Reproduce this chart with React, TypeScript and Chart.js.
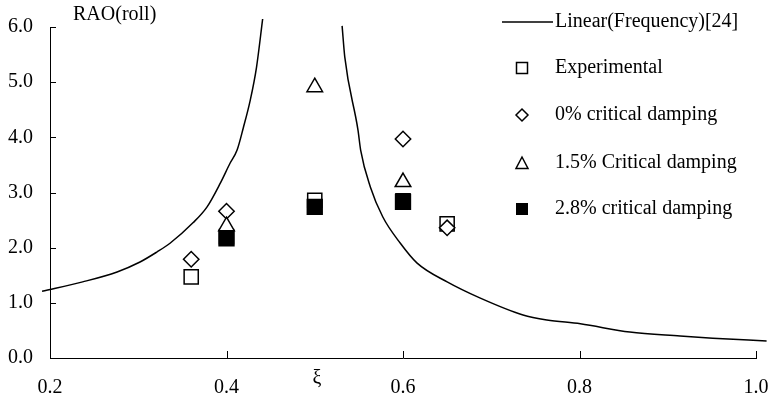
import React, { useEffect, useRef } from "react";
import { Chart, registerables } from "chart.js";

Chart.register(...registerables);

const FONT = "'Liberation Serif', 'Times New Roman', serif";

// Axis ticks
const xTickValues = [0.2, 0.4, 0.6, 0.8, 1.0];
const yTickValues = [0, 1, 2, 3, 4, 5, 6];
const yAxisTitle = "RAO(roll)";
const xAxisTitle = "ξ";

// Linear (Frequency) [24] curve, two branches around resonance
const linearLeftX = [0.191, 0.237, 0.276, 0.302, 0.321, 0.336, 0.362, 0.378, 0.393, 0.404, 0.412, 0.419, 0.427, 0.434, 0.441];
const linearLeftY = [1.21, 1.38, 1.56, 1.74, 1.92, 2.08, 2.45, 2.74, 3.17, 3.53, 3.77, 4.17, 4.68, 5.27, 6.15];
const linearRightX = [0.531, 0.534, 0.549, 0.552, 0.563, 0.577, 0.597, 0.616, 0.65, 0.687, 0.736, 0.763, 0.801, 0.857, 0.914, 0.951, 1.012];
const linearRightY = [6.02, 5.46, 4.13, 3.77, 3.1, 2.56, 2.08, 1.72, 1.38, 1.09, 0.78, 0.69, 0.62, 0.47, 0.4, 0.36, 0.31];

// Point series
const xCategories = [0.36, 0.4, 0.5, 0.6, 0.65];
const experimental: (number | null)[] = [1.47, 2.2, 2.86, 2.85, 2.43];
const damping0: (number | null)[] = [1.79, 2.66, null, 3.97, 2.36];
const damping15: (number | null)[] = [null, 2.39, 4.91, 3.19, null];
const damping28: (number | null)[] = [null, 2.17, 2.74, 2.83, null];

const seriesNames = [
  "Linear(Frequency)[24]",
  "Experimental",
  "0% critical damping",
  "1.5% Critical damping",
  "2.8% critical damping",
];

function toPoints(ys: (number | null)[]) {
  return xCategories
    .map((x, i) => ({ x, y: ys[i] }))
    .filter((p) => p.y !== null) as { x: number; y: number }[];
}

function curvePoints() {
  const left = linearLeftX.map((x, i) => ({ x, y: linearLeftY[i] as number | null }));
  const right = linearRightX.map((x, i) => ({ x, y: linearRightY[i] as number | null }));
  return [...left, { x: 0.49, y: null }, ...right];
}

const decorPlugin = {
  id: "decor",
  afterDraw(chart: any) {
    const { ctx, chartArea, scales } = chart;
    const xs = scales.x;
    const ys = scales.y;
    ctx.save();
    ctx.strokeStyle = "#000";
    ctx.fillStyle = "#000";
    ctx.lineWidth = 1;
    // inward tick marks
    yTickValues.forEach((v) => {
      const py = Math.round(ys.getPixelForValue(v)) + 0.5;
      ctx.beginPath();
      ctx.moveTo(chartArea.left, py);
      ctx.lineTo(chartArea.left + 6, py);
      ctx.stroke();
    });
    xTickValues.forEach((v) => {
      const px = Math.round(xs.getPixelForValue(v)) + 0.5;
      ctx.beginPath();
      ctx.moveTo(px, chartArea.bottom);
      ctx.lineTo(px, chartArea.bottom - 7);
      ctx.stroke();
    });

    // axis titles
    ctx.font = `20px ${FONT}`;
    ctx.textBaseline = "middle";
    ctx.textAlign = "left";
    ctx.fillText(yAxisTitle, 73, 15);
    ctx.textAlign = "center";
    ctx.fillText(xAxisTitle, 317, 379);

    // legend
    ctx.textAlign = "left";
    const mx = 522;
    const tx = 555;
    const rows = [22, 68, 115, 163, 209];
    ctx.lineWidth = 1.5;
    ctx.beginPath();
    ctx.moveTo(502, rows[0]);
    ctx.lineTo(553, rows[0]);
    ctx.stroke();
    ctx.fillText(seriesNames[0], tx, rows[0]);

    // open square
    ctx.lineWidth = 1.5;
    ctx.strokeRect(mx - 5.5, rows[1] - 5.5, 11, 11);
    ctx.fillText(seriesNames[1], tx, rows[1]);

    // diamond
    ctx.beginPath();
    ctx.moveTo(mx - 6, rows[2]);
    ctx.lineTo(mx, rows[2] - 6);
    ctx.lineTo(mx + 6, rows[2]);
    ctx.lineTo(mx, rows[2] + 6);
    ctx.closePath();
    ctx.stroke();
    ctx.fillText(seriesNames[2], tx, rows[2]);

    // triangle
    ctx.beginPath();
    ctx.moveTo(mx, rows[3] - 6);
    ctx.lineTo(mx + 6, rows[3] + 5.5);
    ctx.lineTo(mx - 6, rows[3] + 5.5);
    ctx.closePath();
    ctx.stroke();
    ctx.fillText(seriesNames[3], tx, rows[3]);

    // filled square
    ctx.fillRect(mx - 6, rows[4] - 6, 12, 12);
    ctx.fillText(seriesNames[4], tx, rows[4]);

    ctx.restore();
  },
};

export default function App() {
  const canvasRef = useRef<HTMLCanvasElement | null>(null);

  useEffect(() => {
    if (!canvasRef.current) return;
    const tickFont = { family: FONT, size: 20 };
    const chart = new Chart(canvasRef.current, {
      type: "scatter",
      data: {
        datasets: [
          {
            label: seriesNames[4],
            data: toPoints(damping28),
            pointStyle: "rect",
            pointRadius: 10.5,
            pointBackgroundColor: "#000",
            pointBorderColor: "#000",
            pointBorderWidth: 1.5,
            order: 0,
          } as any,
          {
            label: seriesNames[3],
            data: toPoints(damping15),
            pointStyle: "triangle",
            pointRadius: 9,
            pointBackgroundColor: "#fff",
            pointBorderColor: "#000",
            pointBorderWidth: 1.5,
            order: 1,
          },
          {
            label: seriesNames[2],
            data: toPoints(damping0),
            pointStyle: "rectRot",
            pointRadius: 7.7,
            pointBackgroundColor: "#fff",
            pointBorderColor: "#000",
            pointBorderWidth: 1.5,
            order: 2,
          },
          {
            label: seriesNames[1],
            data: toPoints(experimental),
            pointStyle: "rect",
            pointRadius: 10,
            pointBackgroundColor: "#fff",
            pointBorderColor: "#000",
            pointBorderWidth: 1.5,
            order: 3,
          },
          {
            type: "line",
            label: seriesNames[0],
            data: curvePoints() as any,
            showLine: true,
            borderColor: "#000",
            borderWidth: 1.5,
            pointRadius: 0,
            spanGaps: false,
            cubicInterpolationMode: "monotone",
            clip: { left: 10, top: 8, right: 14, bottom: 0 } as any,
            order: 4,
          } as any,
        ],
      },
      options: {
        animation: false,
        responsive: false,
        devicePixelRatio: 1,
        layout: { padding: { top: 27, right: 12, left: 0, bottom: 0 } },
        plugins: {
          legend: { display: false },
          tooltip: { enabled: false },
        },
        scales: {
          x: {
            type: "linear",
            min: 0.2,
            max: 1.0,
            afterBuildTicks: (axis: any) => {
              axis.ticks = xTickValues.map((v) => ({ value: v }));
            },
            afterFit: (scale: any) => {
              scale.height = 43;
              scale.paddingRight = 0;
              scale.paddingLeft = 0;
            },
            ticks: {
              callback: (v: any) => Number(v).toFixed(1),
              color: "#000",
              font: tickFont,
              padding: 18,
              maxRotation: 0,
              autoSkip: false,
            },
            grid: { display: false, drawTicks: false },
            border: { display: true, color: "#000", width: 1 },
          },
          y: {
            type: "linear",
            min: 0,
            max: 6,
            afterBuildTicks: (axis: any) => {
              axis.ticks = yTickValues.map((v) => ({ value: v }));
            },
            afterFit: (scale: any) => {
              scale.width = 50;
              scale.paddingTop = 0;
              scale.paddingBottom = 0;
            },
            ticks: {
              callback: (v: any) => Number(v).toFixed(1),
              color: "#000",
              font: tickFont,
              padding: 17,
            },
            grid: { display: false, drawTicks: false },
            border: { display: true, color: "#000", width: 1 },
          },
        },
      },
      plugins: [decorPlugin],
    });
    return () => chart.destroy();
  }, []);

  return (
    <div style={{ position: "absolute", left: 0, top: 0, width: 768, height: 401, background: "#fff" }}>
      <canvas ref={canvasRef} width={768} height={401} style={{ display: "block" }} />
    </div>
  );
}
